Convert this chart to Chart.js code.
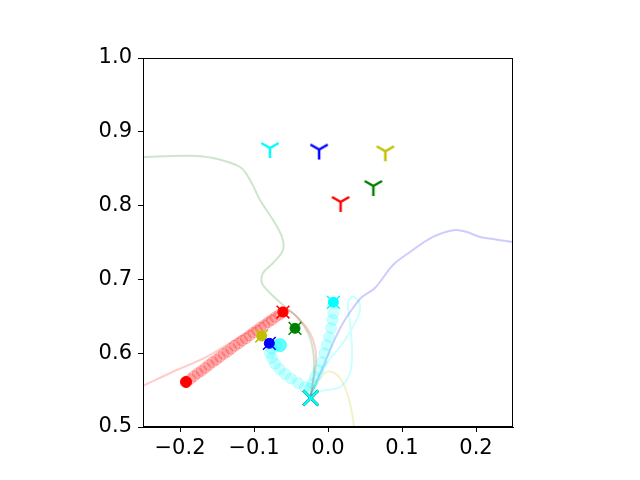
<!DOCTYPE html>
<html>
<head>
<meta charset="utf-8">
<script src="https://cdn.jsdelivr.net/npm/chart.js@4.4.0/dist/chart.umd.min.js"></script>
<style>
  html, body { margin: 0; padding: 0; background: #ffffff; }
  #c { display: block; }
</style>
</head>
<body>
<canvas id="c" width="640" height="480"></canvas>
<script>
// ---------- data ----------
const xTicks = [-0.2, -0.1, 0.0, 0.1, 0.2];
const yTicks = [0.5, 0.6, 0.7, 0.8, 0.9, 1.0];

// agents in order: red, yellow, blue, green, cyan
const agentNames = ['red', 'yellow', 'blue', 'green', 'cyan'];
const goalX = [0.017, 0.0775, -0.012, 0.0613, -0.0784];
const goalY = [0.805, 0.8736, 0.876, 0.8266, 0.878];
const agentX = [-0.0608, -0.0896, -0.0793, -0.0446, 0.0072];
const agentY = [0.6558, 0.6233, 0.6134, 0.6337, 0.669];
const startX = [-0.0234, -0.0234, -0.0234, -0.0234, -0.0234];
const startY = [0.5393, 0.5393, 0.5393, 0.5393, 0.5393];

const redPathX = [-0.0234, -0.0203, -0.0162, -0.0176, -0.0243, -0.0378, -0.0554, -0.0743, -0.0959, -0.1189, -0.1635, -0.2095, -0.2541, -0.282];
const redPathY = [0.5393, 0.5596, 0.5867, 0.6084, 0.6274, 0.645, 0.6585, 0.6518, 0.6359, 0.6224, 0.5953, 0.5749, 0.5538, 0.541];

const greenPathX = [-0.0234, -0.023, -0.0189, -0.0203, -0.027, -0.0419, -0.0608, -0.0784, -0.0892, -0.0878, -0.0743, -0.0608, -0.0622, -0.0743, -0.0919, -0.1054, -0.1189, -0.1554, -0.1865, -0.25, -0.281];
const greenPathY = [0.5393, 0.5447, 0.5772, 0.6043, 0.6274, 0.649, 0.6653, 0.6816, 0.6951, 0.7087, 0.7222, 0.7398, 0.7575, 0.7805, 0.8076, 0.8347, 0.8523, 0.8645, 0.8676, 0.8659, 0.8645];

const bluePathX = [-0.0234, -0.023, -0.0068, 0.0068, 0.0203, 0.0338, 0.0459, 0.0635, 0.0878, 0.1108, 0.1419, 0.1716, 0.1878, 0.2054, 0.223, 0.25, 0.273];
const bluePathY = [0.5393, 0.5447, 0.5813, 0.6138, 0.6409, 0.6612, 0.6762, 0.6883, 0.7195, 0.7371, 0.7575, 0.7669, 0.7642, 0.7575, 0.7547, 0.7507, 0.748];

const cyanPathX = [-0.0234, -0.023, -0.0014, 0.0203, 0.0365, 0.0432, 0.0405, 0.0324, 0.027, 0.0297, 0.0324, 0.0297, 0.0162, -0.0014, -0.0149];
const cyanPathY = [0.5393, 0.5447, 0.5867, 0.6138, 0.6409, 0.6585, 0.6721, 0.6762, 0.668, 0.6409, 0.6043, 0.5732, 0.5542, 0.5501, 0.5474];

const yellowPathX = [-0.0234, -0.023, -0.0135, -0.0041, 0.0054, 0.0162, 0.0257, 0.0324, 0.0351, 0.0378];
const yellowPathY = [0.5393, 0.5447, 0.561, 0.5732, 0.5745, 0.5664, 0.5461, 0.519, 0.5, 0.4824];

const redTrailX = [-0.061, -0.066, -0.071, -0.076, -0.081, -0.086, -0.091, -0.096, -0.101, -0.106, -0.111, -0.116, -0.121, -0.126, -0.131, -0.136, -0.141, -0.146, -0.151, -0.156, -0.161, -0.166, -0.171, -0.176, -0.181, -0.186, -0.191];
const redTrailY = [0.656, 0.652, 0.649, 0.645, 0.642, 0.638, 0.635, 0.631, 0.628, 0.624, 0.620, 0.617, 0.613, 0.610, 0.606, 0.602, 0.599, 0.595, 0.591, 0.588, 0.584, 0.580, 0.576, 0.573, 0.569, 0.565, 0.561];
const redTrailEndX = [-0.1919];
const redTrailEndY = [0.561];

const cyanTrailX = [0.0072, 0.0064, 0.0041, 0.0014, -0.0018, -0.005, -0.0085, -0.0131, -0.0176, -0.0212, -0.0243, -0.0311, -0.0405, -0.05, -0.0581, -0.0655, -0.0716, -0.0757, -0.0784, -0.0764, -0.0703];
const cyanTrailY = [0.654, 0.645, 0.634, 0.622, 0.611, 0.600, 0.588, 0.577, 0.568, 0.559, 0.552, 0.554, 0.5596, 0.5657, 0.5718, 0.5786, 0.586, 0.5935, 0.600, 0.6064, 0.6104];
const cyanTrailEndX = [-0.0649];
const cyanTrailEndY = [0.611];

// ---------- styles ----------
const colorOf = {
  red: '#ff0000', yellow: '#bfbf00', blue: '#0000ff', green: '#008000', cyan: '#00ffff'
};
const faintOf = {
  red: 'rgba(255,0,0,0.2)', yellow: 'rgba(191,191,0,0.2)', blue: 'rgba(0,0,255,0.2)',
  green: 'rgba(0,128,0,0.2)', cyan: 'rgba(0,255,255,0.2)'
};

function triDown(color) {
  const c = document.createElement('canvas');
  c.width = 26; c.height = 26;
  const g = c.getContext('2d');
  g.strokeStyle = color;
  g.lineWidth = 2.5;
  g.lineCap = 'butt';
  const cx = 13, cy = 13, r = 10;
  g.beginPath();
  g.moveTo(cx, cy); g.lineTo(cx, cy + r);
  g.moveTo(cx, cy); g.lineTo(cx - r * 0.866, cy - r * 0.5);
  g.moveTo(cx, cy); g.lineTo(cx + r * 0.866, cy - r * 0.5);
  g.stroke();
  return c;
}

function pts(xs, ys) { return xs.map((x, i) => ({ x: x, y: ys[i] })); }

function pathDs(name, xs, ys) {
  return {
    data: pts(xs, ys), showLine: true, borderColor: faintOf[name], borderWidth: 2,
    pointRadius: 0, tension: 0.35, fill: false, order: 10
  };
}

const datasets = [
  pathDs('red', redPathX, redPathY),
  pathDs('green', greenPathX, greenPathY),
  pathDs('blue', bluePathX, bluePathY),
  pathDs('cyan', cyanPathX, cyanPathY),
  pathDs('yellow', yellowPathX, yellowPathY),
  {
    data: pts(redTrailX, redTrailY), pointRadius: 5.5, pointStyle: 'circle',
    backgroundColor: 'rgba(255,0,0,0.2)', borderColor: 'rgba(255,0,0,0.18)', borderWidth: 1, order: 8
  },
  {
    data: pts(cyanTrailX, cyanTrailY), pointRadius: 5.5, pointStyle: 'circle',
    backgroundColor: 'rgba(0,255,255,0.2)', borderColor: 'rgba(0,255,255,0.18)', borderWidth: 1, order: 8
  },
  {
    data: pts(redTrailEndX, redTrailEndY), pointRadius: 5.5, pointStyle: 'circle',
    backgroundColor: '#ff0000', borderColor: '#ff0000', borderWidth: 1, order: 7
  },
  {
    data: pts(cyanTrailEndX, cyanTrailEndY), pointRadius: 6.5, pointStyle: 'circle',
    backgroundColor: 'rgba(0,255,255,0.6)', borderColor: 'rgba(0,255,255,0.6)', borderWidth: 1, order: 7
  },
  {
    data: pts(startX, startY), pointRadius: 10.5, pointStyle: 'crossRot',
    borderColor: agentNames.map(n => colorOf[n]), borderWidth: 2.5, order: 6
  },
  {
    data: pts(agentX, agentY), pointRadius: 9, pointStyle: 'crossRot',
    borderColor: agentNames.map(n => colorOf[n]), borderWidth: 1.5, order: 5
  },
  {
    data: pts(agentX, agentY), pointRadius: 5, pointStyle: 'circle',
    backgroundColor: agentNames.map(n => colorOf[n]), borderColor: agentNames.map(n => colorOf[n]),
    borderWidth: 1, order: 4
  },
  {
    data: pts(goalX, goalY), pointRadius: 10, pointStyle: agentNames.map(n => triDown(colorOf[n])),
    order: 3
  }
];

const framePlugin = {
  id: 'frame',
  afterDraw(chart) {
    const a = chart.chartArea, ctx = chart.ctx;
    ctx.save();
    ctx.strokeStyle = '#000000';
    ctx.lineWidth = 1;
    ctx.strokeRect(Math.round(a.left) + 0.5, Math.round(a.top) + 0.5,
                   Math.round(a.right - a.left) - 1, Math.round(a.bottom - a.top) - 1);
    ctx.restore();
  }
};

const tickFont = { family: 'DejaVu Sans', size: 21 };
function fmt(v) {
  const s = Math.abs(v).toFixed(1);
  return (v < -1e-9 ? '\u2212' : '') + s;
}

new Chart(document.getElementById('c'), {
  type: 'scatter',
  data: { datasets: datasets },
  plugins: [framePlugin],
  options: {
    responsive: false,
    animation: false,
    devicePixelRatio: 1,
    layout: { padding: { left: 0, right: 127, top: 58, bottom: 0 } },
    plugins: { legend: { display: false }, tooltip: { enabled: false } },
    scales: {
      x: {
        type: 'linear', min: -0.25, max: 0.25,
        afterBuildTicks: s => { s.ticks = xTicks.map(v => ({ value: v })); },
        afterFit: s => { s.height = 53; },
        ticks: { callback: v => fmt(v), font: tickFont, color: '#000', padding: 4, maxRotation: 0, autoSkip: false },
        grid: { drawOnChartArea: false, drawTicks: true, tickLength: 5, tickColor: '#000', tickWidth: 1 },
        border: { display: true, color: '#000', width: 1 }
      },
      y: {
        type: 'linear', min: 0.5, max: 1.0,
        afterBuildTicks: s => { s.ticks = yTicks.map(v => ({ value: v })); },
        afterFit: s => { s.width = 143; },
        ticks: { callback: v => fmt(v), font: tickFont, color: '#000', padding: 6, autoSkip: false },
        grid: { drawOnChartArea: false, drawTicks: true, tickLength: 5, tickColor: '#000', tickWidth: 1 },
        border: { display: true, color: '#000', width: 1 }
      }
    }
  }
});
</script>
</body>
</html>
